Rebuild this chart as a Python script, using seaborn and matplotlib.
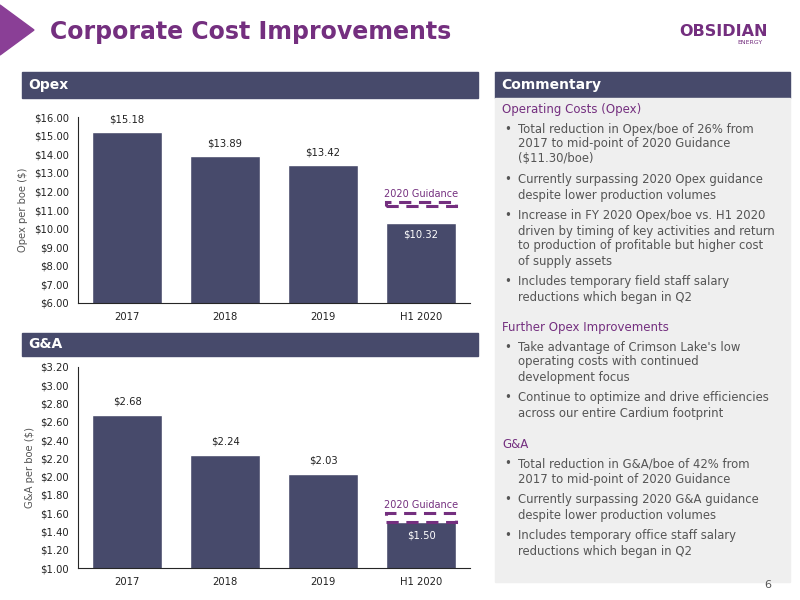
import seaborn as sns
import matplotlib.pyplot as plt
import pandas as pd
from matplotlib.patches import Rectangle, Polygon
from matplotlib.ticker import FuncFormatter

# data
periods = ['2017', '2018', '2019', 'H1 2020']
opex = [15.18, 13.89, 13.42, 10.32]
gna = [2.68, 2.24, 2.03, 1.50]
opex_guidance = (11.20, 11.45)
gna_guidance = (1.50, 1.60)

BAR = '#474a6b'
PURPLE = '#742f7f'
GREY = '#555555'

sns.set_style('white')
plt.rcParams['font.family'] = ['DejaVu Sans']

fig = plt.figure(figsize=(8, 6), dpi=100)


def px(x, y):
    return x / 800, 1 - y / 600


def header(x0, y0, x1, y1, text):
    l, b = px(x0, y1)
    fig.patches.append(Rectangle((l, b), (x1 - x0) / 800, (y1 - y0) / 600,
                                 transform=fig.transFigure, color=BAR, zorder=0))
    fig.text(*px(x0 + 6, (y0 + y1) / 2), text, color='white', fontsize=10,
             fontweight='bold', va='center')


# title and logo
fig.patches.append(Polygon([px(0, 5), px(34, 30), px(0, 55)], closed=True,
                           transform=fig.transFigure, color='#8a3f96'))
fig.text(*px(50, 32), 'Corporate Cost Improvements', color=PURPLE,
         fontsize=17, fontweight='heavy', va='center')
fig.text(*px(723, 32), 'OBSIDIAN', color=PURPLE, fontsize=11.5,
         fontweight='bold', ha='center', va='center')
fig.text(*px(750, 42), 'ENERGY', color=PURPLE, fontsize=4.5,
         ha='center', va='center')

header(22, 72, 478, 98, 'Opex')
header(22, 333, 478, 356, 'G&A')
header(495, 72, 790, 98, 'Commentary')
fig.patches.append(Rectangle(px(495, 582), 295 / 800, 484 / 600,
                             transform=fig.transFigure, color='#efefef', zorder=0))


def bar_chart(rect, values, ylim, step, ylabel, guide):
    ax = fig.add_axes(rect)
    df = pd.DataFrame({'period': periods, 'value': values})
    sns.barplot(data=df, x='period', y='value', color=BAR, width=0.72,
                saturation=1, ax=ax)
    ax.set_xlim(-0.5, 3.5)
    ax.set_ylim(*ylim)
    ticks = [ylim[0] + i * step for i in range(int(round((ylim[1] - ylim[0]) / step)) + 1)]
    ax.set_yticks(ticks)
    ax.yaxis.set_major_formatter(FuncFormatter(lambda v, _: f'${v:.2f}'))
    ax.set_xticks([0.5, 1.5, 2.5, 3.5], minor=True)
    ax.tick_params(axis='x', which='major', length=0)
    ax.tick_params(axis='x', which='minor', length=3)
    ax.tick_params(labelsize=7.2, length=3, colors='#222222')
    ax.set_xlabel('')
    ax.set_ylabel(ylabel, fontsize=7.2, color=GREY)
    for s in ['top', 'right']:
        ax.spines[s].set_visible(False)
    off = (ylim[1] - ylim[0]) * 0.04
    for i, v in enumerate(values):
        if i == len(values) - 1:
            ax.text(i, v - off * 1.6, f'${v:.2f}', ha='center', va='center',
                    color='white', fontsize=7.2)
        else:
            ax.text(i, v + off, f'${v:.2f}', ha='center', va='bottom',
                    color='#222222', fontsize=7.2)
    ax.add_patch(Rectangle((2.64, guide[0]), 0.72, guide[1] - guide[0], fill=False,
                           edgecolor=PURPLE, lw=2.2, ls=(0, (4, 2.5)), zorder=5))
    ax.text(3, guide[1] + off * 0.4, '2020 Guidance', ha='center', va='bottom',
            color=PURPLE, fontsize=7)
    return ax


bar_chart([78 / 800, 1 - 303 / 600, 392 / 800, 186 / 600], opex, (6, 16), 1,
          'Opex per boe ($)', opex_guidance)
bar_chart([78 / 800, 1 - 568 / 600, 392 / 800, 201 / 600], gna, (1.0, 3.2), 0.2,
          'G&A per boe ($)', gna_guidance)

# commentary text
lines = [
    (110, 'Operating Costs (Opex)', 'h'),
    (129, 'Total reduction in Opex/boe of 26% from', 'b'),
    (144, '2017 to mid-point of 2020 Guidance', 'c'),
    (159, '($11.30/boe)', 'c'),
    (180, 'Currently surpassing 2020 Opex guidance', 'b'),
    (195, 'despite lower production volumes', 'c'),
    (216, 'Increase in FY 2020 Opex/boe vs. H1 2020', 'b'),
    (231, 'driven by timing of key activities and return', 'c'),
    (246, 'to production of profitable but higher cost', 'c'),
    (261, 'of supply assets', 'c'),
    (282, 'Includes temporary field staff salary', 'b'),
    (297, 'reductions which began in Q2', 'c'),
    (328, 'Further Opex Improvements', 'h'),
    (347, "Take advantage of Crimson Lake's low", 'b'),
    (362, 'operating costs with continued', 'c'),
    (377, 'development focus', 'c'),
    (398, 'Continue to optimize and drive efficiencies', 'b'),
    (413, 'across our entire Cardium footprint', 'c'),
    (445, 'G&A', 'h'),
    (464, 'Total reduction in G&A/boe of 42% from', 'b'),
    (479, '2017 to mid-point of 2020 Guidance', 'c'),
    (500, 'Currently surpassing 2020 G&A guidance', 'b'),
    (515, 'despite lower production volumes', 'c'),
    (536, 'Includes temporary office staff salary', 'b'),
    (551, 'reductions which began in Q2', 'c'),
]
for y, t, kind in lines:
    if kind == 'h':
        fig.text(*px(502, y), t, color=PURPLE, fontsize=8.5, va='center')
    else:
        if kind == 'b':
            fig.text(*px(504, y), '•', color=GREY, fontsize=8.5, va='center')
        fig.text(*px(518, y), t, color=GREY, fontsize=8.4, va='center')

fig.text(*px(768, 585), '6', color=GREY, fontsize=8, ha='center', va='center')

fig.savefig('out.png', dpi=100)
